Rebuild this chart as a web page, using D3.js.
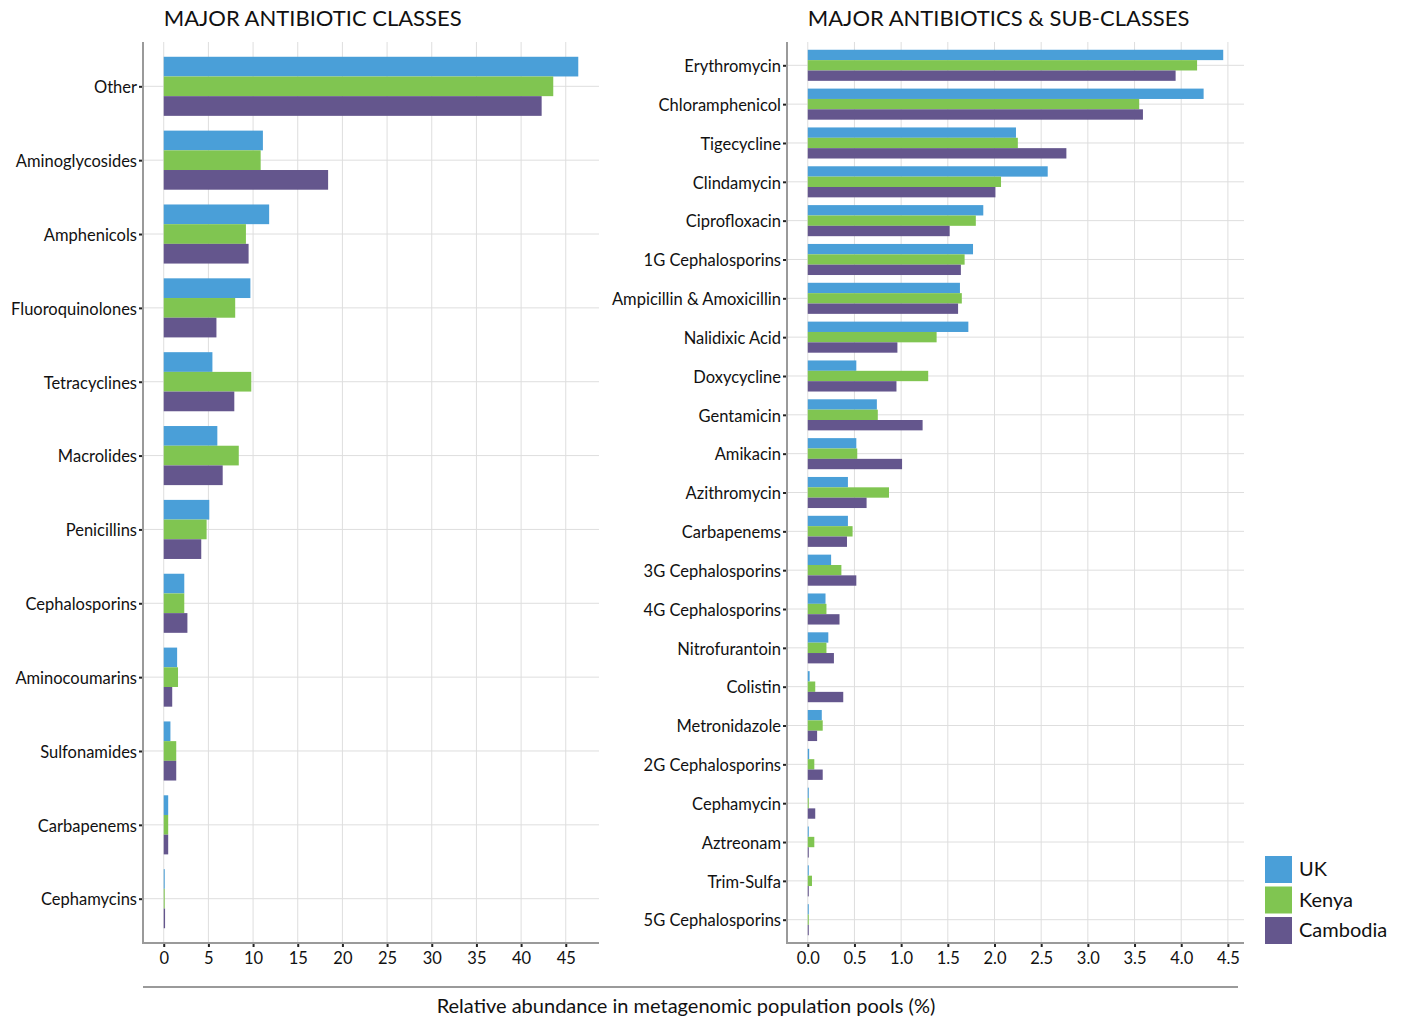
<!DOCTYPE html>
<html>
<head>
<meta charset="utf-8">
<script src="https://cdn.jsdelivr.net/npm/d3@7"></script>
<style>
body { margin: 0; background: #fff; }
svg { font-family: Lato, "Noto Sans", sans-serif; }
</style>
</head>
<body>
<div id="chart"></div>
<script>
var countries = ['UK', 'Kenya', 'Cambodia']
var colors = ['#4a9fd8', '#80c551', '#64568d']

// left panel
var classNames = ['Other', 'Aminoglycosides', 'Amphenicols', 'Fluoroquinolones', 'Tetracyclines', 'Macrolides',
	'Penicillins', 'Cephalosporins', 'Aminocoumarins', 'Sulfonamides', 'Carbapenems', 'Cephamycins']
var classUK       = [46.4, 11.1, 11.8, 9.7, 5.45, 6.0, 5.1, 2.3, 1.5, 0.75, 0.5, 0.05]
var classKenya    = [43.6, 10.85, 9.2, 8.0, 9.8, 8.4, 4.8, 2.3, 1.6, 1.4, 0.5, 0.05]
var classCambodia = [42.3, 18.4, 9.5, 5.9, 7.9, 6.6, 4.2, 2.65, 0.95, 1.4, 0.5, 0.15]
var classTicks = [0, 5, 10, 15, 20, 25, 30, 35, 40, 45]

// right panel
var drugNames = ['Erythromycin', 'Chloramphenicol', 'Tigecycline', 'Clindamycin', 'Ciprofloxacin', '1G Cephalosporins',
	'Ampicillin & Amoxicillin', 'Nalidixic Acid', 'Doxycycline', 'Gentamicin', 'Amikacin', 'Azithromycin',
	'Carbapenems', '3G Cephalosporins', '4G Cephalosporins', 'Nitrofurantoin', 'Colistin', 'Metronidazole',
	'2G Cephalosporins', 'Cephamycin', 'Aztreonam', 'Trim-Sulfa', '5G Cephalosporins']
var drugUK       = [4.45, 4.24, 2.23, 2.57, 1.88, 1.77, 1.63, 1.72, 0.52, 0.74, 0.52, 0.43, 0.43, 0.25, 0.19, 0.22, 0.02, 0.15, 0.015, 0.01, 0.01, 0.005, 0.005]
var drugKenya    = [4.17, 3.55, 2.25, 2.07, 1.80, 1.68, 1.65, 1.38, 1.29, 0.75, 0.53, 0.87, 0.48, 0.36, 0.20, 0.20, 0.08, 0.16, 0.07, 0.01, 0.07, 0.045, 0.01]
var drugCambodia = [3.94, 3.59, 2.77, 2.01, 1.52, 1.64, 1.61, 0.96, 0.95, 1.23, 1.01, 0.63, 0.42, 0.52, 0.34, 0.28, 0.38, 0.10, 0.16, 0.08, 0.01, 0.005, 0.01]
var drugTicks = [0, 0.5, 1, 1.5, 2, 2.5, 3, 3.5, 4, 4.5]

var svg = d3.select('#chart').append('svg')
	.attr('width', 1402)
	.attr('height', 1019)

function buildPanel(opt) {
	var rows = opt.names.map(function(n, i) {
		return { name: n, values: [opt.series[0][i], opt.series[1][i], opt.series[2][i]] }
	})
	var maxV = d3.max(rows, function(d) { return d3.max(d.values) })

	var xScale = d3.scaleLinear()
		.domain([-0.05 * maxV, 1.05 * maxV])
		.range([opt.left, opt.right])
	var yScale = d3.scalePoint()
		.domain(opt.names)
		.range([opt.top, opt.bottom])
		.padding(0.6)
	var step = yScale.step()
	var inner = d3.scaleBand()
		.domain(countries)
		.range([-0.4 * step, 0.4 * step])

	var g = svg.append('g')

	// grid
	g.selectAll('.vgrid').data(opt.ticks).enter().append('line')
		.attr('x1', function(d) { return xScale(d) }).attr('x2', function(d) { return xScale(d) })
		.attr('y1', opt.top).attr('y2', opt.bottom)
		.attr('stroke', '#dedede').attr('stroke-width', 1)
	g.selectAll('.hgrid').data(opt.names).enter().append('line')
		.attr('x1', opt.left).attr('x2', opt.right)
		.attr('y1', function(d) { return yScale(d) }).attr('y2', function(d) { return yScale(d) })
		.attr('stroke', '#dedede').attr('stroke-width', 1)

	// bars
	var grp = g.selectAll('.row').data(rows).enter().append('g')
		.attr('transform', function(d) { return 'translate(0,' + yScale(d.name) + ')' })
	grp.selectAll('rect')
		.data(function(d) { return d.values.map(function(v, i) { return { c: countries[i], v: v, i: i } }) })
		.enter().append('rect')
		.attr('x', xScale(0))
		.attr('y', function(d) { return inner(d.c) })
		.attr('height', inner.bandwidth())
		.attr('width', function(d) { return Math.max(1, xScale(d.v) - xScale(0)) })
		.attr('fill', function(d) { return colors[d.i] })

	// axes
	var yAxis = d3.axisLeft(yScale).tickSize(4).tickPadding(2)
	var ya = g.append('g').attr('transform', 'translate(' + opt.left + ',1)').call(yAxis)
	ya.select('.domain').remove()
	ya.selectAll('.tick line').attr('stroke', '#222').attr('stroke-width', 2).attr('transform', 'translate(0,-1)')
	ya.selectAll('text').attr('font-size', 16.5).attr('fill', '#111').attr('font-family', 'Lato, sans-serif')

	var xAxis = d3.axisBottom(xScale).tickValues(opt.ticks).tickSize(4).tickPadding(5)
		.tickFormat(opt.fmt)
	var xa = g.append('g').attr('transform', 'translate(0,' + opt.bottom + ')').call(xAxis)
	xa.select('.domain').remove()
	xa.selectAll('.tick line').attr('stroke', '#222').attr('stroke-width', 2)
	xa.selectAll('text').attr('font-size', 16.5).attr('fill', '#111').attr('font-family', 'Lato, sans-serif')

	g.append('line')
		.attr('x1', opt.left).attr('x2', opt.left)
		.attr('y1', opt.top).attr('y2', opt.bottom + 1)
		.attr('stroke', '#9a9a9a').attr('stroke-width', 2)
	g.append('line')
		.attr('x1', opt.left).attr('x2', opt.right)
		.attr('y1', opt.bottom).attr('y2', opt.bottom)
		.attr('stroke', '#9a9a9a').attr('stroke-width', 2)

	g.append('text')
		.attr('x', xScale(0)).attr('y', 26)
		.attr('font-size', 22).attr('fill', '#111')
		.text(opt.title)
}

buildPanel({
	names: classNames, series: [classUK, classKenya, classCambodia], ticks: classTicks,
	left: 143, right: 599, top: 42, bottom: 943,
	fmt: d3.format('d'), title: 'MAJOR ANTIBIOTIC CLASSES'
})
buildPanel({
	names: drugNames, series: [drugUK, drugKenya, drugCambodia], ticks: drugTicks,
	left: 787, right: 1244, top: 42, bottom: 943,
	fmt: d3.format('.1f'), title: 'MAJOR ANTIBIOTICS & SUB-CLASSES'
})

// shared x title
svg.append('line')
	.attr('x1', 143).attr('x2', 1238)
	.attr('y1', 987).attr('y2', 987)
	.attr('stroke', '#9a9a9a').attr('stroke-width', 2)
svg.append('text')
	.attr('x', 686).attr('y', 1013)
	.attr('text-anchor', 'middle')
	.attr('font-size', 20).attr('fill', '#111')
	.text('Relative abundance in metagenomic population pools (%)')

// legend
var legend = svg.append('g').attr('transform', 'translate(1265,856)')
countries.forEach(function(c, i) {
	legend.append('rect')
		.attr('x', 0).attr('y', i * 30.5)
		.attr('width', 27).attr('height', 27)
		.attr('fill', colors[i])
	legend.append('text')
		.attr('x', 34).attr('y', i * 30.5 + 20)
		.attr('font-size', 20).attr('fill', '#111')
		.text(c)
})
</script>
</body>
</html>
